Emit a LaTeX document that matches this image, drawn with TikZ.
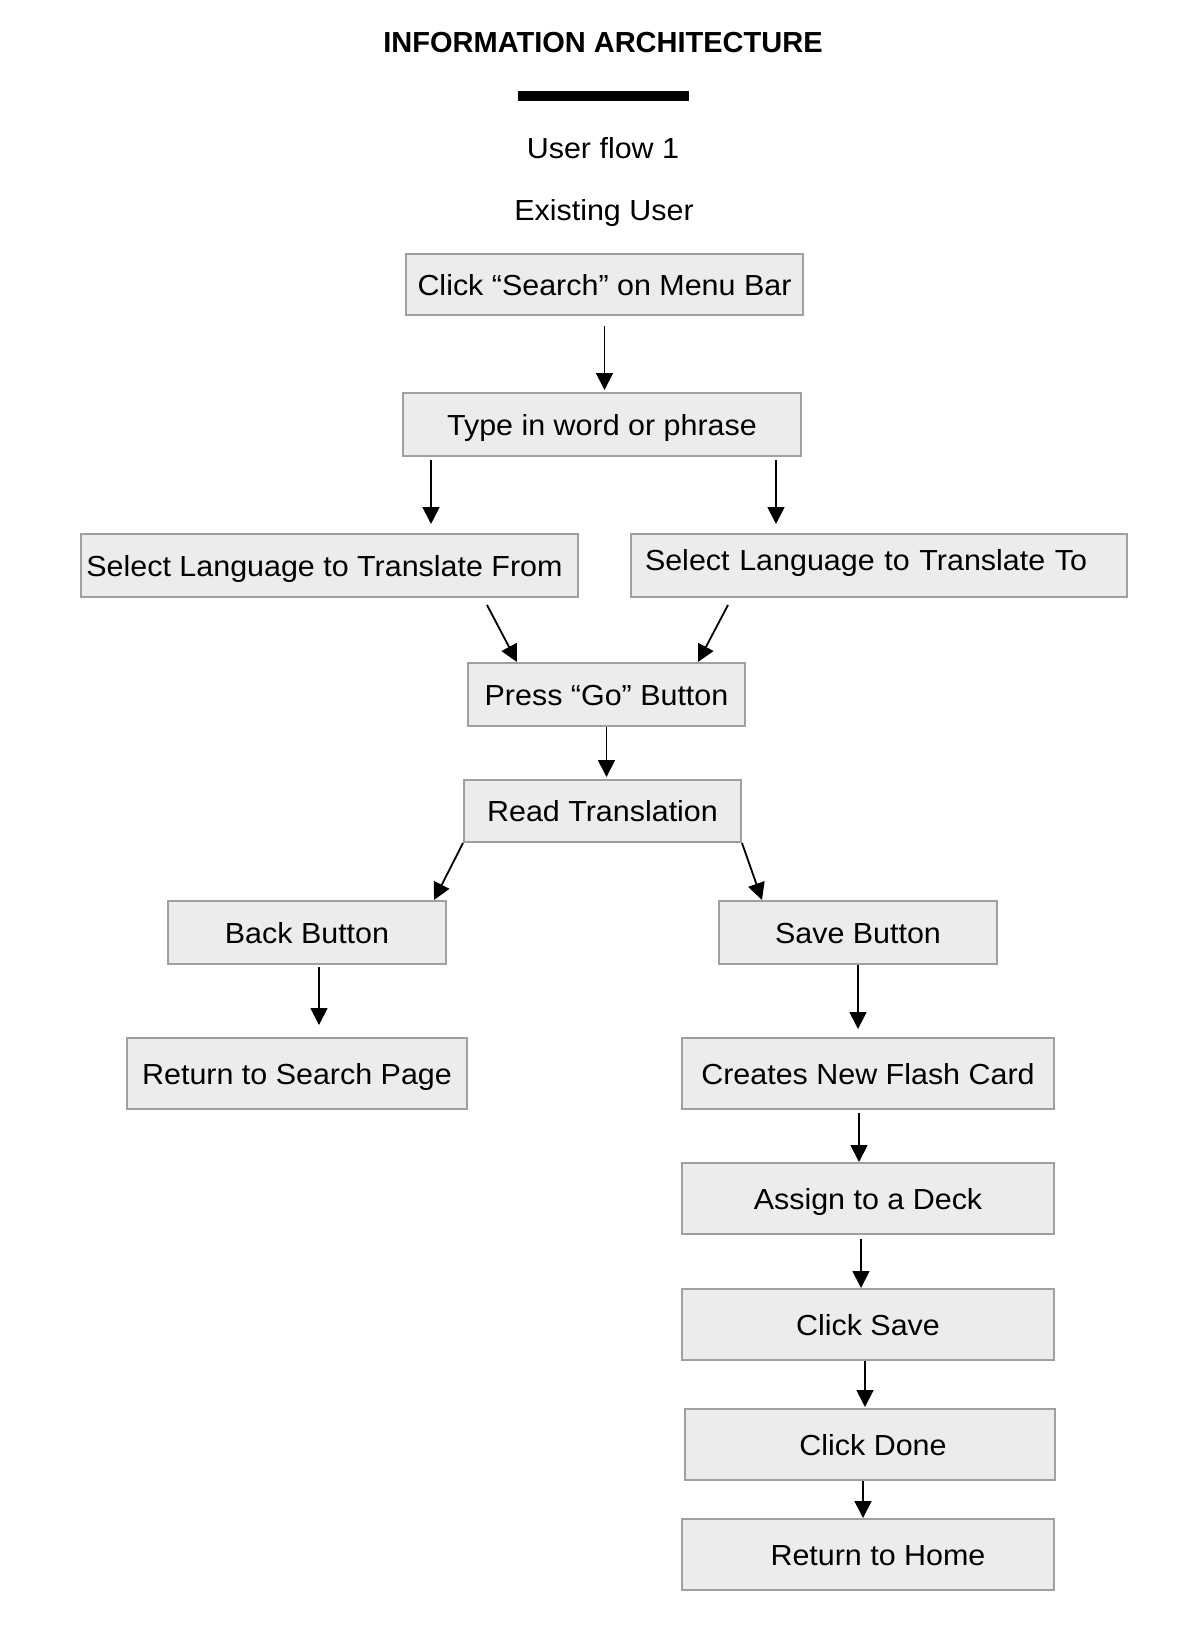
\documentclass[tikz,border=0pt]{standalone}
\usepackage{fontspec}
\setmainfont{Liberation Sans}
\newfontfamily\flowfont[FakeStretch=1.05]{Liberation Sans}
\usepackage{tikz}
\usetikzlibrary{arrows.meta}
\definecolor{box_fill}{HTML}{EDEBEC}
\definecolor{box_line}{HTML}{A0A0A0}

\begin{document}
\begin{tikzpicture}[x=1pt,y=-1pt,>={Triangle[width=17pt,length=17pt]},
    box/.style={draw=box_line, fill=box_fill, line width=2pt, inner sep=0pt,
        font=\flowfont\fontsize{29}{34}\selectfont, text height=21pt, text depth=0pt},
    arr/.style={->, line width=1.8pt, black},
    txt/.style={font=\flowfont\fontsize{29}{34}\selectfont, text height=21pt, text depth=0pt, inner sep=0pt}]

        \useasboundingbox (0,0) rectangle (1200,1630);

        % Titre et sous-titres
        \node[txt, font=\fontsize{29}{34}\selectfont\bfseries] (title) at (603,41.5) {INFORMATION ARCHITECTURE};
        \fill[black] (518,91) rectangle (689,101);
        \node[txt] (flow) at (603,147.5) {User flow 1};
        \node[txt] (exist) at (604,210) {Existing User};

        % Les etapes
        \node[box, minimum width=397pt, minimum height=61pt] (search) at (604.5,284.5) {Click “Search” on Menu Bar};
        \node[box, minimum width=398pt, minimum height=63pt] (type) at (602,424.5) {Type in word or phrase};
        \node[box, minimum width=497pt, minimum height=63pt] (from) at (329.5,565.5) {Select Language to Translate From\hspace*{10pt}};
        \node[box, text width=468pt, inner xsep=14pt, align=left, text depth=12pt, minimum height=63pt] (to) at (879,565.5) {Select Language to Translate To};
        \node[box, minimum width=277pt, minimum height=63pt] (go) at (606.5,694.5) {Press “Go” Button};
        \node[box, minimum width=277pt, minimum height=62pt] (read) at (602.5,811) {Read Translation};
        \node[box, minimum width=278pt, minimum height=63pt] (back) at (307,932.5) {Back Button};
        \node[box, minimum width=340pt, minimum height=71pt] (ret) at (297,1073.5) {Return to Search Page};
        \node[box, minimum width=278pt, minimum height=63pt] (save) at (858,932.5) {Save Button};
        \node[box, minimum width=372pt, minimum height=71pt] (card) at (868,1073.5) {Creates New Flash Card};
        \node[box, minimum width=372pt, minimum height=71pt] (deck) at (868,1198.5) {Assign to a Deck};
        \node[box, minimum width=372pt, minimum height=71pt] (csave) at (868,1324.5) {Click Save};
        \node[box, minimum width=370pt, minimum height=71pt] (done) at (870,1444.5) {\hspace*{6pt}Click Done};
        \node[box, minimum width=372pt, minimum height=71pt] (home) at (868,1554.5) {\hspace*{20pt}Return to Home};

        % Les fleches
        \draw[arr, shorten <=10pt, shorten >=2pt] (search.south) -- (search.south |- type.north);
        \draw[arr, shorten <=3pt, shorten >=9pt] ([xshift=29pt]type.south west) -- ([xshift=29pt]type.south west |- from.north);
        \draw[arr, shorten <=3pt, shorten >=9pt] ([xshift=-26pt]type.south east) -- ([xshift=-26pt]type.south east |- to.north);
        \draw[arr] ([xshift=-92pt,yshift=-7pt]from.south east) -- ([xshift=50pt]go.north west);
        \draw[arr] ([xshift=98pt,yshift=-7pt]to.south west) -- ([xshift=-48pt]go.north east);
        \draw[arr, shorten >=2pt] (go.south) -- (go.south |- read.north);
        \draw[arr] (read.south west) -- ([xshift=-13pt]back.north east);
        \draw[arr] (read.south east) -- ([xshift=44pt]save.north west);
        \draw[arr, shorten <=2pt, shorten >=12pt] ([xshift=12pt]back.south) -- ([xshift=12pt]back.south |- ret.north);
        \draw[arr, shorten >=8pt] (save.south) -- (save.south |- card.north);
        \draw[arr, shorten <=3pt] ([xshift=-9pt]card.south) -- ([xshift=-9pt]card.south |- deck.north);
        \draw[arr, shorten <=4pt] ([xshift=-7pt]deck.south) -- ([xshift=-7pt]deck.south |- csave.north);
        \draw[arr, shorten >=1pt] ([xshift=-3pt]csave.south) -- ([xshift=-3pt]csave.south |- done.north);
        \draw[arr] ([xshift=-7pt]done.south) -- ([xshift=-7pt]done.south |- home.north);
    \end{tikzpicture}
\end{document}
